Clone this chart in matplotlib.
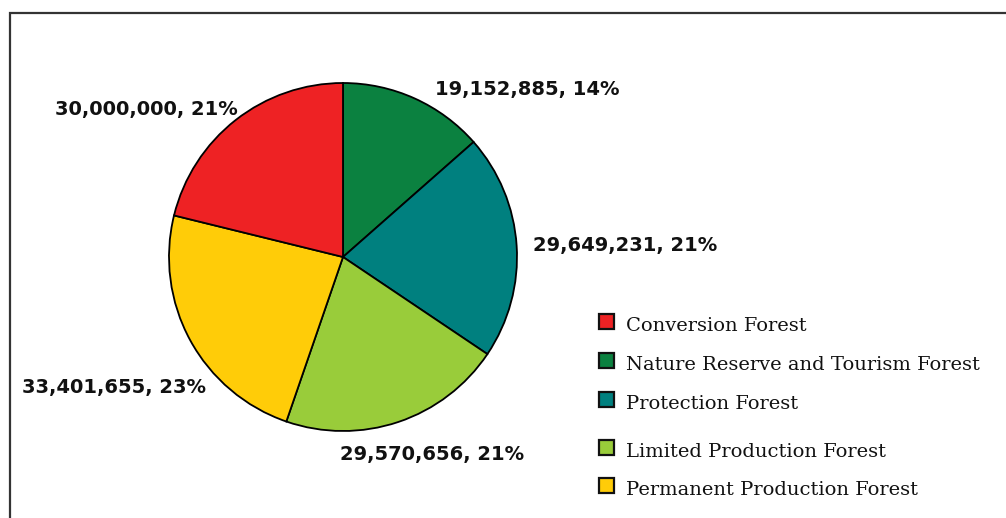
import matplotlib
matplotlib.use("Agg")
import matplotlib.pyplot as plt
import matplotlib.patches as mpatches

# data, in drawing order (clockwise from 12 o'clock)
categories = ["Nature Reserve and Tourism Forest", "Protection Forest",
              "Limited Production Forest", "Permanent Production Forest",
              "Conversion Forest"]
areas = [19152885, 29649231, 29570656, 33401655, 30000000]
percents = [14, 21, 21, 23, 21]
colors = ["#0B8140", "#00807F", "#99CC3A", "#FFCC08", "#EE2224"]

legend_order = ["Conversion Forest", "Nature Reserve and Tourism Forest",
                "Protection Forest", "Limited Production Forest",
                "Permanent Production Forest"]

W, H = 1006, 518
fig = plt.figure(figsize=(W / 100, H / 100), dpi=100)

# outer frame (only top/left visible in the crop)
fig.patches.append(mpatches.Rectangle((10 / W, -0.1), 1.2, (H - 13) / H + 0.1,
                                      transform=fig.transFigure, fill=False,
                                      edgecolor="#333333", linewidth=1.6))

cx, cy, r = 343, 257, 174
ax = fig.add_axes([(cx - r) / W, (H - cy - r) / H, 2 * r / W, 2 * r / H])
wedges, _ = ax.pie(areas, colors=colors, startangle=90, counterclock=False,
                   radius=1, wedgeprops=dict(edgecolor="black", linewidth=1.3))
for w in wedges:
    w.set_clip_on(False)
ax.set_xlim(-1, 1)
ax.set_ylim(-1, 1)
ax.set_aspect("equal")
ax.axis("off")

# data labels
label_pos = [(1.057, 0.965), (1.621, 0.068), (0.511, -1.133),
             (-1.316, -0.748), (-1.132, 0.845)]
for (x, y), v, p in zip(label_pos, areas, percents):
    ax.text(x, y, f"{v:,}, {p}%", ha="center", va="center", fontsize=14,
            fontweight="bold", family="DejaVu Sans", color="#111111")

# legend drawn by hand (uneven row spacing in the original)
row_y = [326, 365, 404, 452, 490]
for name, y in zip(legend_order, row_y):
    c = colors[categories.index(name)]
    fig.patches.append(mpatches.Rectangle((599 / W, (H - y - 2.5) / H), 15 / W, 15 / H,
                                          transform=fig.transFigure,
                                          facecolor=c, edgecolor="#111111", linewidth=1.6))
    fig.text(626 / W, (H - y) / H, name, ha="left", va="center",
             fontsize=14, family="DejaVu Serif", color="#111111")

fig.savefig("out.png", dpi=100)
